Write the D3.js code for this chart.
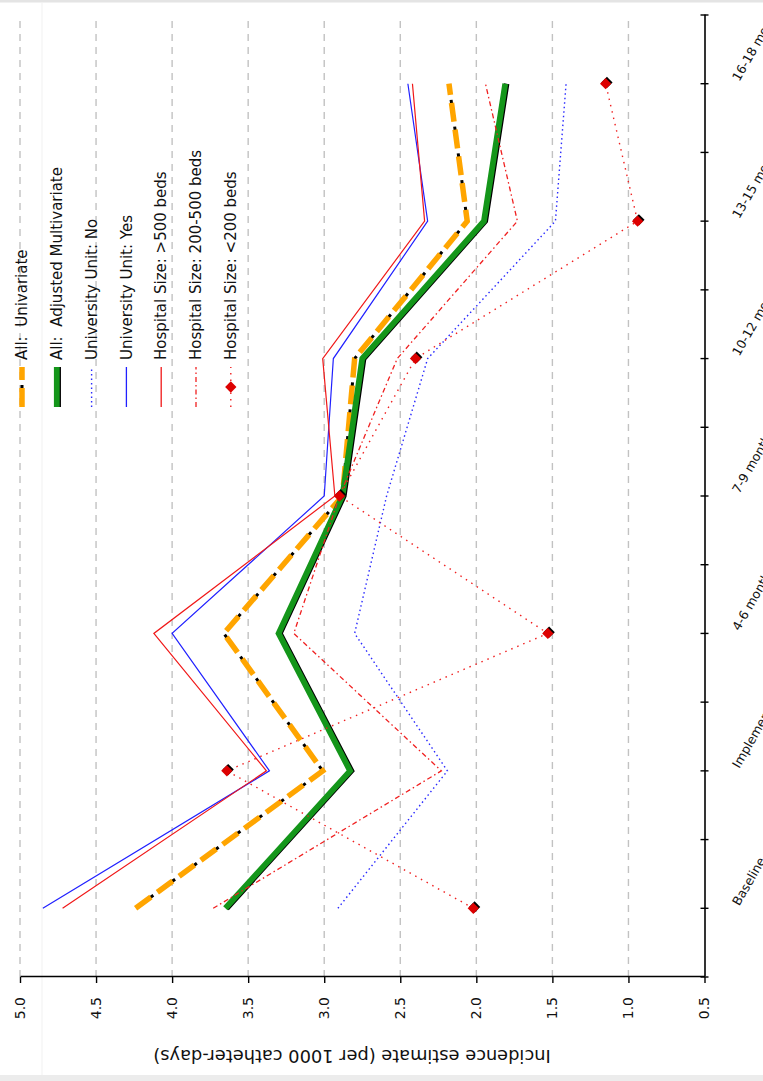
<!DOCTYPE html>
<html>
<head>
<meta charset="utf-8">
<script src="https://cdn.jsdelivr.net/npm/d3@7"></script>
<style>
body{margin:0;background:#fff;}
svg{display:block;font-family:"DejaVu Sans",sans-serif;}
</style>
</head>
<body>
<div id="chart"></div>
<script>
var categories = ["Baseline","Implementation","4-6 months","7-9 months","10-12 months","13-15 months","16-18 months"];
var valueTicks = [0.5,1.0,1.5,2.0,2.5,3.0,3.5,4.0,4.5,5.0];

var allUnivariate = [4.24,3.01,3.66,2.88,2.80,2.06,2.18];
var allAdjusted   = [3.65,2.83,3.30,2.88,2.75,1.95,1.81];
var univNo        = [2.91,2.19,2.80,2.59,2.32,1.48,1.41];
var univYes       = [4.85,3.36,4.00,3.00,2.94,2.32,2.45];
var sizeLarge     = [4.72,3.38,4.12,2.93,3.01,2.34,2.42];
var sizeMedium    = [3.73,2.23,3.20,2.90,2.52,1.73,1.94];
var sizeSmall     = [2.02,3.64,1.53,2.90,2.40,0.94,1.15];

var seriesNames = ["All:  Univariate","All:  Adjusted Multivariate","University Unit: No","University Unit: Yes",
    "Hospital Size: >500 beds","Hospital Size: 200-500 beds","Hospital Size: <200 beds"];

var W = 763, H = 1081;
// the chart is drawn upright (H wide, W tall) and then turned a quarter to the left
var padLeft = 104, padRight = 1066, padTop = 20, padBottom = 704.5;

var svg = d3.select("#chart").append("svg")
    .attr("width", W)
    .attr("height", H);

svg.append("rect").attr("x",0).attr("y",0).attr("width",W).attr("height",2.5).style("fill","#e4e4e4");
svg.append("rect").attr("x",0).attr("y",H-6).attr("width",W).attr("height",6).style("fill","#ececec");
svg.append("line").attr("x1",42).attr("x2",42).attr("y1",3).attr("y2",H-6)
    .style("stroke","#f1f1f1").style("stroke-width",1);

var g = svg.append("g").attr("transform","translate(0,"+H+") rotate(-90)");

var xBand = d3.scaleBand().domain(categories).range([padLeft,padRight]);
var x = function(c){ return xBand(c) + xBand.bandwidth()/2; };
var y = d3.scaleLinear().domain([0.5,5]).range([padBottom,padTop]);

// gridlines
g.selectAll(".grid")
    .data(valueTicks.slice(1))
    .enter().append("line")
    .attr("class","grid")
    .attr("x1",padLeft).attr("x2",padRight)
    .attr("y1",function(d){return y(d);})
    .attr("y2",function(d){return y(d);})
    .style("stroke","#c2c2c2")
    .style("stroke-width",1.4)
    .style("stroke-dasharray","7,6");

// value axis
var yAxis = d3.axisLeft(y)
    .tickValues(valueTicks)
    .tickFormat(d3.format(".1f"))
    .tickSize(6)
    .tickSizeOuter(0)
    .tickPadding(14);

var ya = g.append("g")
    .attr("transform","translate("+padLeft+",0)")
    .call(yAxis);
ya.select(".domain").style("stroke","#000").style("stroke-width",1.6);
ya.selectAll(".tick line").style("stroke","#000").style("stroke-width",1.4);
ya.selectAll(".tick text").style("font-size","14px").style("fill","#111")
    .style("font-family","DejaVu Sans");

// category axis
var xAxis = d3.axisBottom(xBand).tickSize(0).tickSizeOuter(0).tickFormat("");
var xa = g.append("g")
    .attr("transform","translate(0,"+padBottom+")")
    .call(xAxis);
xa.select(".domain").style("stroke","#000").style("stroke-width",1.6);

var tickPos = [];
categories.forEach(function(c){ tickPos.push(xBand(c)); tickPos.push(x(c)); });
tickPos.push(padRight);
g.selectAll(".ctick")
    .data(tickPos)
    .enter().append("line")
    .attr("class","ctick")
    .attr("x1",function(d){return d;}).attr("x2",function(d){return d;})
    .attr("y1",padBottom-4).attr("y2",padBottom+4)
    .style("stroke","#000").style("stroke-width",1.4);

g.selectAll(".cat")
    .data(categories)
    .enter().append("text")
    .attr("class","cat")
    .attr("transform",function(d){return "translate("+(x(d)+4)+","+(padBottom+31)+") rotate(30)";})
    .attr("dy","0.35em")
    .style("font-size","12.5px")
    .style("fill","#111")
    .text(function(d){return d;});

// axis title
g.append("text")
    .attr("transform","translate(31,352) rotate(-90)")
    .attr("text-anchor","middle")
    .style("font-size","17.8px")
    .style("fill","#111")
    .text("Incidence estimate (per 1000 catheter-days)");

// series
var line = d3.line()
    .x(function(d){return x(d.cat);})
    .y(function(d){return y(d.v);});

function rows(vals){
    return vals.map(function(v,i){ return {cat:categories[i], v:v}; });
}

function drawPath(data, stroke, width, dash, offset, shift){
    return g.append("path")
        .datum(data)
        .attr("d",line)
        .attr("transform", shift ? "translate("+shift[0]+","+shift[1]+")" : null)
        .style("fill","none")
        .style("stroke",stroke)
        .style("stroke-width",width)
        .style("stroke-dasharray",dash)
        .style("stroke-dashoffset",offset || 0)
        .style("stroke-linejoin","miter");
}

drawPath(rows(allUnivariate),"#000",3,"5,22",-17);
drawPath(rows(allUnivariate),"#ffa500",5.5,"19,8",0);

drawPath(rows(allAdjusted),"#000",5.5,null,0,[0,1.4]);
drawPath(rows(allAdjusted),"#14961a",5.8,null,0);

drawPath(rows(univNo),"#2a2aff",1.4,"1.5,3",0);
drawPath(rows(univYes),"#2020ff",1.2,null,0);
drawPath(rows(sizeLarge),"#f01818",1.2,null,0);
drawPath(rows(sizeMedium),"#f02020",1.3,"5,3,1.5,3",0);
drawPath(rows(sizeSmall),"#f02020",1.4,"1.5,5",0);

var diamond = d3.symbol().type(d3.symbolSquare).size(64);
g.selectAll(".dshadow")
    .data(rows(sizeSmall))
    .enter().append("path")
    .attr("class","dshadow")
    .attr("d",diamond)
    .attr("transform",function(d){return "translate("+(x(d.cat)+1.3)+","+(y(d.v)+1.3)+") rotate(45)";})
    .style("fill","#000");
g.selectAll(".dmark")
    .data(rows(sizeSmall))
    .enter().append("path")
    .attr("class","dmark")
    .attr("d",diamond)
    .attr("transform",function(d){return "translate("+x(d.cat)+","+y(d.v)+") rotate(45)";})
    .style("fill","#dd0000");

// legend
var legX0 = 674, legX1 = 714, legY0 = 22, legStep = 34.8;
var leg = g.append("g").attr("class","legend");

function legLine(i, stroke, width, dash, offset, shift){
    var yy = legY0 + i*legStep + (shift || 0);
    leg.append("line")
        .attr("x1",legX0).attr("x2",legX1)
        .attr("y1",yy).attr("y2",yy)
        .style("stroke",stroke)
        .style("stroke-width",width)
        .style("stroke-dasharray",dash)
        .style("stroke-dashoffset",offset || 0);
}
legLine(0,"#000",3,"5,22",-17);
legLine(0,"#ffa500",5.5,"19,8",0);
legLine(1,"#000",5.5,null,0,1.4);
legLine(1,"#14961a",5.8,null,0);
legLine(2,"#2a2aff",1.4,"1.5,3",0);
legLine(3,"#2020ff",1.3,null,0);
legLine(4,"#f01818",1.3,null,0);
legLine(5,"#f02020",1.3,"5,3,1.5,3",0);
legLine(6,"#f02020",1.4,"1.5,5",0);
leg.append("path")
    .attr("d",diamond)
    .attr("transform","translate("+((legX0+legX1)/2)+","+(legY0+6*legStep)+") rotate(45)")
    .style("fill","#dd0000");

leg.selectAll("text")
    .data(seriesNames)
    .enter().append("text")
    .attr("x",legX1+7)
    .attr("y",function(d,i){return legY0 + i*legStep;})
    .attr("dy","0.35em")
    .style("font-size","15px")
    .style("fill","#111")
    .style("white-space","pre")
    .text(function(d){return d;});
</script>
</body>
</html>
